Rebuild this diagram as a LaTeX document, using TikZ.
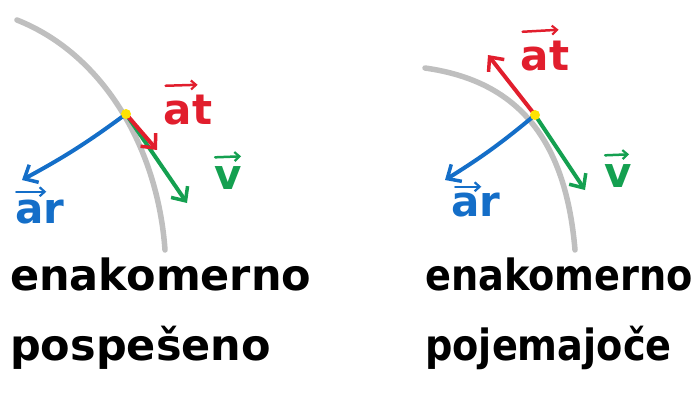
\documentclass[tikz,border=0pt]{standalone}
\usepackage{fontspec}
\setmainfont{DejaVu Sans}
\usetikzlibrary{arrows.meta, positioning}

\begin{document}
\begin{tikzpicture}[
  x=1pt, y=-1pt,
  track/.style={line width=5.5pt, color=black!25, line cap=round},
  vec/.style={line width=4pt, line cap=round, -{Straight Barb[length=11pt, width=20pt, line width=3.5pt]}},
  over/.style={line width=2.5pt, line cap=round, -{Straight Barb[length=5pt, width=9pt, line width=2.2pt]}},
  dot/.style={circle, fill=yellow!85!orange, minimum size=10pt, inner sep=0pt},
  vlabel/.style={font=\fontsize{42}{44}\selectfont\bfseries, inner sep=0pt},
  word/.style={font=\fontsize{43}{70}\selectfont\bfseries, align=left, inner sep=0pt},
]
\definecolor{arblue}{RGB}{20,110,200}
\definecolor{atred}{RGB}{225,30,45}
\definecolor{vgreen}{RGB}{20,160,80}

\useasboundingbox (0,0) rectangle (700,392);

% ---- levo: pospesevanje ----
\draw[track] (17,20) .. controls (105,55) and (158,150) .. (165,250);
\coordinate (pL) at (126,114);
\coordinate (arL) at (22,180);
\coordinate (atL) at (157,150);
\coordinate (vL) at (187,203);
\draw[vec, arblue] (pL) to[bend left=4] (arL);
\draw[vec, vgreen] (pL) -- (vL);
\draw[vec, atred]  (pL) -- (atL);
\node[dot] (dL) at (pL) {};

\node[vlabel, atred]  (latL) at (188,110) {at};
\node[vlabel, vgreen] (lvL)  at (228,178) {v};
\node[vlabel, arblue] (larL) at (40,212)  {ar};
\draw[over, atred]  ([shift={(2,-9)}]latL.north west) -- ++(32,-1);
\draw[over, vgreen] ([shift={(1,-9)}]lvL.north west) -- ++(26,-1);
\draw[over, arblue] ([shift={(1,-8)}]larL.north west) -- ++(30,0);

% ---- desno: pojemanje ----
\draw[track] (425,68) .. controls (510,80) and (565,130) .. (575,250);
\coordinate (pR) at (535,115);
\coordinate (arR) at (445,180);
\coordinate (atR) at (488,55);
\coordinate (vR) at (585,190);
\draw[vec, arblue] (pR) to[bend left=4] (arR);
\draw[vec, vgreen] (pR) -- (vR);
\draw[vec, atred]  (pR) -- (atR);
\node[dot] (dR) at (pR) {};

\node[vlabel, atred]  (latR) at (545,56)  {at};
\node[vlabel, vgreen] (lvR)  at (618,176) {v};
\node[vlabel, arblue] (larR) at (476,205) {ar};
\draw[over, atred]  ([shift={(2,-9)}]latR.north west) -- ++(36,-2);
\draw[over, vgreen] ([shift={(1,-9)}]lvR.north west) -- ++(24,-1);
\draw[over, arblue] ([shift={(4,-6)}]larR.north west) -- ++(26,0);

% ---- napisi ----
\node[word, anchor=north west] (txtL) at (10,258) {enakomerno\\pospešeno};
\node[word, anchor=north west] (txtR) at (425,258)
  {\scalebox{0.89}[1]{enakomerno}\\\scalebox{0.89}[1]{pojemajoče}};

\end{tikzpicture}
\end{document}
